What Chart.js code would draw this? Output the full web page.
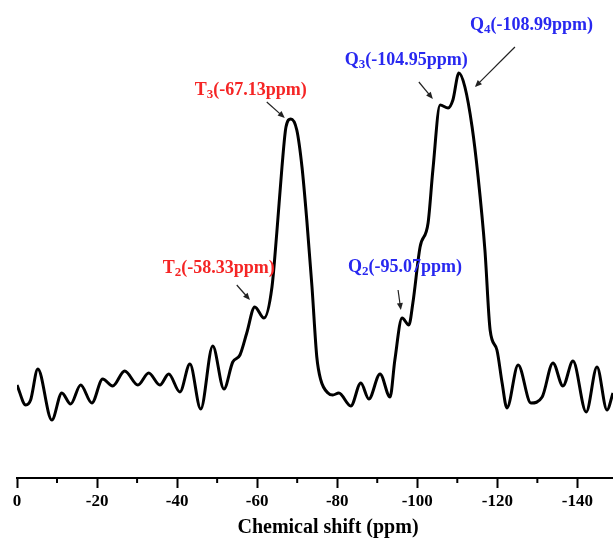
<!DOCTYPE html>
<html>
<head>
<meta charset="utf-8">
<script src="https://cdn.jsdelivr.net/npm/chart.js@4.4.1/dist/chart.umd.min.js"></script>
<style>
    html, body { margin: 0; padding: 0; background: #fff; }
    #wrap { width: 613px; height: 539px; position: relative; }
</style>
</head>
<body>
<div id="wrap"><canvas id="nmrChart"></canvas></div>
<script>
// Spectrum: chemical shift (ppm) and intensity (a.u.)
const shiftPpm = [
    0.0, -2.2, -3.4, -5.2, -8.7, -11.2, -13.4, -15.9, -18.7, -21.4,
    -23.9, -26.9, -30.2, -32.9, -35.7, -37.9, -40.7, -43.2, -45.9, -48.9,
    -51.7, -53.9, -55.7, -57.4, -59.4, -61.7, -63.7, -64.9, -66.2, -67.2,
    -68.4, -69.9, -71.2, -72.4, -73.7, -74.9, -75.9, -77.7, -78.9, -80.4,
    -83.4, -85.9, -87.9, -90.7, -93.2, -94.4, -96.2, -97.9, -98.9, -100.7,
    -102.7, -103.9, -105.7, -107.7, -108.9, -110.4, -111.9, -113.7, -115.2, -116.9,
    -118.2, -119.9, -121.2, -122.4, -125.2, -128.4, -131.2, -133.9, -136.4, -138.9,
    -142.2, -144.9, -147.4, -148.9
];
const intensity = [
    93, 73, 78, 109, 58, 85, 74, 93, 75, 99,
    92, 107, 93, 105, 93, 104, 86, 114, 69, 132,
    89, 116, 123, 145, 171, 160, 191, 245, 311, 351,
    359, 348, 311, 258, 191, 121, 98, 85, 83, 85,
    72, 95, 79, 104, 81, 118, 160, 153, 175, 231,
    255, 308, 373, 370, 378, 405, 391, 351, 301, 228,
    148, 128, 95, 70, 113, 75, 81, 115, 92, 117,
    66, 111, 68, 85
];

// Axis ticks (every 10 ppm, labels every 20)
const tickValues = [0, -10, -20, -30, -40, -50, -60, -70, -80, -90, -100, -110, -120, -130, -140];
const axisTitle = 'Chemical shift (ppm)';

// Peak assignments
const peakNames = ['T', 'T', 'Q', 'Q', 'Q'];
const peakSubs = ['2', '3', '2', '3', '4'];
const peakShifts = ['-58.33', '-67.13', '-95.07', '-104.95', '-108.99'];

// Where each label and arrow goes (data coordinates)
const labelSpots = [
    { x: -36.4, y: 210, from: [-54.9, 193], to: [-58.2, 178], color: '#f52525' },
    { x: -44.4, y: 388, from: [-62.4, 376], to: [-66.9, 360], color: '#f52525' },
    { x: -82.7, y: 211, from: [-95.2, 188], to: [-95.9, 168], color: '#2828f0' },
    { x: -81.9, y: 418, from: [-100.4, 396], to: [-103.9, 379], color: '#2828f0' },
    { x: -113.2, y: 453, from: [-124.4, 431], to: [-114.4, 391], color: '#2828f0' }
];

const serif = '"Liberation Serif", "Times New Roman", serif';

const points = shiftPpm.map((x, i) => ({ x: x, y: intensity[i] }));

// minor ticks, axis title + peak labels
const extras = {
    id: 'extras',
    afterDraw(chart) {
        const ctx = chart.ctx;
        const xs = chart.scales.x;
        const ys = chart.scales.y;
        ctx.save();

        ctx.strokeStyle = '#000';
        ctx.lineWidth = 2;
        xs.ticks.forEach(t => {
            if (t.value % 20 !== 0) {
                const px = xs.getPixelForValue(t.value);
                ctx.beginPath();
                ctx.moveTo(px, xs.top);
                ctx.lineTo(px, xs.top + 5);
                ctx.stroke();
            }
        });

        // axis title sits centred under the full (cropped) axis, not the visible part
        ctx.fillStyle = '#000';
        ctx.font = 'bold 20px ' + serif;
        ctx.textAlign = 'center';
        ctx.textBaseline = 'middle';
        ctx.fillText(axisTitle, xs.getPixelForValue(-77.7), xs.top + 50);

        labelSpots.forEach((s, i) => {
            let x = xs.getPixelForValue(s.x);
            const y = ys.getPixelForValue(s.y);
            ctx.fillStyle = s.color;
            ctx.textBaseline = 'middle';
            ctx.textAlign = 'left';
            ctx.font = 'bold 18px ' + serif;
            ctx.fillText(peakNames[i], x, y);
            x += ctx.measureText(peakNames[i]).width;
            ctx.font = 'bold 13px ' + serif;
            ctx.fillText(peakSubs[i], x, y + 5);
            x += ctx.measureText(peakSubs[i]).width;
            ctx.font = 'bold 18px ' + serif;
            ctx.fillText('(' + peakShifts[i] + 'ppm)', x, y);

            // arrow
            const x1 = xs.getPixelForValue(s.from[0]), y1 = ys.getPixelForValue(s.from[1]);
            const x2 = xs.getPixelForValue(s.to[0]), y2 = ys.getPixelForValue(s.to[1]);
            const a = Math.atan2(y2 - y1, x2 - x1);
            ctx.strokeStyle = '#222';
            ctx.fillStyle = '#222';
            ctx.lineWidth = 1.2;
            ctx.beginPath();
            ctx.moveTo(x1, y1);
            ctx.lineTo(x2 - 4 * Math.cos(a), y2 - 4 * Math.sin(a));
            ctx.stroke();
            ctx.beginPath();
            ctx.moveTo(x2, y2);
            ctx.lineTo(x2 - 7 * Math.cos(a) + 3 * Math.sin(a), y2 - 7 * Math.sin(a) - 3 * Math.cos(a));
            ctx.lineTo(x2 - 7 * Math.cos(a) - 3 * Math.sin(a), y2 - 7 * Math.sin(a) + 3 * Math.cos(a));
            ctx.closePath();
            ctx.fill();
        });
        ctx.restore();
    }
};

new Chart(document.getElementById('nmrChart'), {
    type: 'line',
    data: {
        datasets: [{
            data: points,
            borderColor: '#000',
            borderWidth: 3,
            pointRadius: 0,
            fill: false,
            cubicInterpolationMode: 'monotone'
        }]
    },
    options: {
        responsive: true,
        maintainAspectRatio: false,
        animation: false,
        layout: { padding: { left: 17, right: 0, top: 0, bottom: 24 } },
        plugins: {
            legend: { display: false },
            tooltip: { enabled: false }
        },
        scales: {
            x: {
                type: 'linear',
                min: -148.9,
                max: 0,
                reverse: true,
                afterBuildTicks: (scale) => {
                    scale.ticks = tickValues.map(v => ({ value: v }));
                },
                border: { display: true, color: '#000', width: 2 },
                grid: {
                    drawOnChartArea: false,
                    drawTicks: true,
                    tickLength: 10,
                    tickWidth: 2,
                    tickColor: (c) => (c.tick && c.tick.value % 20 === 0) ? '#000' : 'rgba(0,0,0,0)'
                },
                ticks: {
                    autoSkip: false,
                    maxRotation: 0,
                    padding: 5,
                    color: '#000',
                    font: { family: serif, size: 17, weight: 'bold', lineHeight: 1 },
                    callback: (v) => (v % 20 === 0) ? String(v) : ''
                },
                title: { display: false }
            },
            y: {
                display: false,
                min: 0,
                max: 478
            }
        }
    },
    plugins: [extras]
});
</script>
</body>
</html>
